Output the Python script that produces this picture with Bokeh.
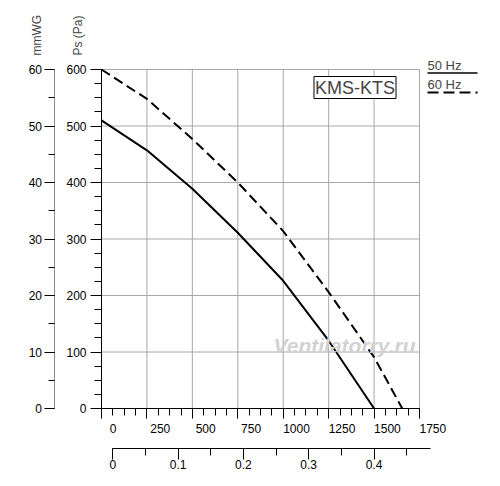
import math
from bokeh.plotting import figure
from bokeh.models import LinearAxis, Range1d, SingleIntervalTicker, Label
from bokeh.embed import file_html
from bokeh.resources import INLINE

# ---- data ----
flow_m3h_50 = [0, 250, 500, 750, 1000, 1250, 1500]
ps_50 = [510, 457, 389, 311, 226, 120, 0]
flow_m3h_60 = [0, 250, 500, 750, 1000, 1250, 1500, 1655]
ps_60 = [600, 548, 477, 400, 314, 206, 91, 0]

x_ticks = [0, 250, 500, 750, 1000, 1250, 1500, 1750]
ps_ticks = [0, 100, 200, 300, 400, 500, 600]
mm_ticks = [0, 10, 20, 30, 40, 50, 60]
flow_ticks = [0, 0.1, 0.2, 0.3, 0.4]
flow_tick_labels = ["0", "0.1", "0.2", "0.3", "0.4"]
series_labels = ["50 Hz", "60 Hz"]
model_name = "KMS-KTS"
watermark = "Ventilatorry.ru"

FONT = "Liberation Sans"
NB = "\u00a0"
W, H = 500, 486

# ---- layout calibration (pixels of the canvas) ----
PX_Q0, PX_QMAX = 101.0, 419.0      # x pixel of 0 and 1750 m3/h
PY_P0, PY_PMAX = 408.0, 69.0       # y pixel of 0 and 600 Pa
QMAX, PMAX = x_ticks[-1], ps_ticks[-1]
qpp = QMAX / (PX_QMAX - PX_Q0)     # m3/h per pixel
ppp = PMAX / (PY_P0 - PY_PMAX)     # Pa per pixel

def qx(px):
    return (px - PX_Q0) * qpp

def py_(py):
    return (PY_P0 - py) * ppp

FLOW_PX0, FLOW_PX_PER_UNIT = 112.3, 653.0

p = figure(width=W, height=H, output_backend="svg", toolbar_location=None,
           x_range=Range1d(qx(0), qx(W)), y_range=Range1d(py_(H), py_(0)),
           min_border=0, x_axis_type=None, y_axis_type=None)
p.title.visible = False
p.outline_line_color = None
p.background_fill_color = "white"
p.border_fill_color = "white"

p.extra_y_ranges = {"mm": Range1d(py_(H) / 10.0, py_(0) / 10.0)}
p.extra_x_ranges = {"flow": Range1d((0 - FLOW_PX0) / FLOW_PX_PER_UNIT,
                                    (W - FLOW_PX0) / FLOW_PX_PER_UNIT)}

def style_axis(ax, major_out, minor_out, standoff, line_color="black"):
    ax.major_tick_out = major_out
    ax.major_tick_in = 0
    ax.minor_tick_out = minor_out
    ax.minor_tick_in = 0
    ax.major_label_standoff = standoff
    ax.axis_line_color = line_color
    ax.axis_line_width = 1
    ax.major_tick_line_color = "black"
    ax.minor_tick_line_color = "black"
    ax.major_label_text_font = FONT
    ax.major_label_text_font_size = "12px"
    ax.major_label_text_color = "black"

# grid (drawn from the tick lists, inside the chart area only)
p.segment(x0=x_ticks, y0=[0] * len(x_ticks), x1=x_ticks, y1=[PMAX] * len(x_ticks),
          line_color="#a8a8a8", line_width=1)
p.segment(x0=[0] * len(ps_ticks), y0=ps_ticks, x1=[QMAX] * len(ps_ticks), y1=ps_ticks,
          line_color="#a8a8a8", line_width=1)

# Ps axis
ps_axis = LinearAxis(ticker=SingleIntervalTicker(interval=100, num_minor_ticks=4),
                     fixed_location=0, bounds=(0, PMAX))
style_axis(ps_axis, 11, 7, 4)
p.add_layout(ps_axis, "left")

# mmWG axis
mm_axis = LinearAxis(y_range_name="mm", ticker=SingleIntervalTicker(interval=10, num_minor_ticks=2),
                     fixed_location=qx(53.5), bounds=(0, mm_ticks[-1]))
style_axis(mm_axis, 10, 6, 2, line_color="#8a8a8a")
p.add_layout(mm_axis, "left")

# main flow axis m3/h
q_axis = LinearAxis(ticker=SingleIntervalTicker(interval=250, num_minor_ticks=4),
                    fixed_location=0, bounds=(0, QMAX))
style_axis(q_axis, 10, 7, 3)
q_axis.major_label_overrides = {v: (NB * (7 if v == 0 else 8)) + str(v) for v in x_ticks}
p.add_layout(q_axis, "below")

# flow axis m3/s
f_axis = LinearAxis(x_range_name="flow", ticker=SingleIntervalTicker(interval=0.1, num_minor_ticks=2),
                    fixed_location=py_(447.5), bounds=(0, (430 - FLOW_PX0) / FLOW_PX_PER_UNIT))
style_axis(f_axis, 11, 7, 1)
f_axis.major_label_overrides = {t: s for t, s in zip(flow_ticks, flow_tick_labels)}
p.add_layout(f_axis, "below")

# curves
r50 = p.line(flow_m3h_50, ps_50, line_color="black", line_width=2)
r60 = p.line(flow_m3h_60, ps_60, line_color="black", line_width=2, line_dash="10 5")

# watermark
p.add_layout(Label(x=qx(273), y=py_(345), text=watermark, text_font=FONT,
                   text_font_size="21px", text_font_style="bold italic",
                   text_color="#d2d2d2", text_baseline="alphabetic"))

# model box
p.add_layout(Label(x=qx(354.5), y=py_(87), text=model_name, text_font=FONT, text_font_size="18px",
                   text_align="center", text_baseline="middle",
                   border_line_color="black", border_line_width=1,
                   background_fill_color="white", padding=1))

# axis titles
for px, txt in [(77, "Ps (Pa)"), (36, "mmWG")]:
    p.add_layout(Label(x=qx(px), y=py_(55), text=txt, angle=math.pi / 2, text_font=FONT,
                       text_font_size="12px", text_align="left", text_baseline="middle"))

# legend: label above its line sample (outside the chart, to the right)
LEG_X0, LEG_X1 = 427.0, 477.0
for lab, top_y, line_y, dash, lw in [(series_labels[0], 57.5, 72.5, "solid", 1.5),
                                     (series_labels[1], 76.0, 92.0, "11 5", 2)]:
    p.add_layout(Label(x=qx(LEG_X0), y=py_(top_y), text=lab, text_font=FONT,
                       text_font_size="13px", text_baseline="top"))
    p.line([qx(LEG_X0), qx(LEG_X1)], [py_(line_y), py_(line_y)], line_color="black",
           line_width=lw, line_dash=dash)

open("out.html", "w").write(file_html(p, INLINE))
